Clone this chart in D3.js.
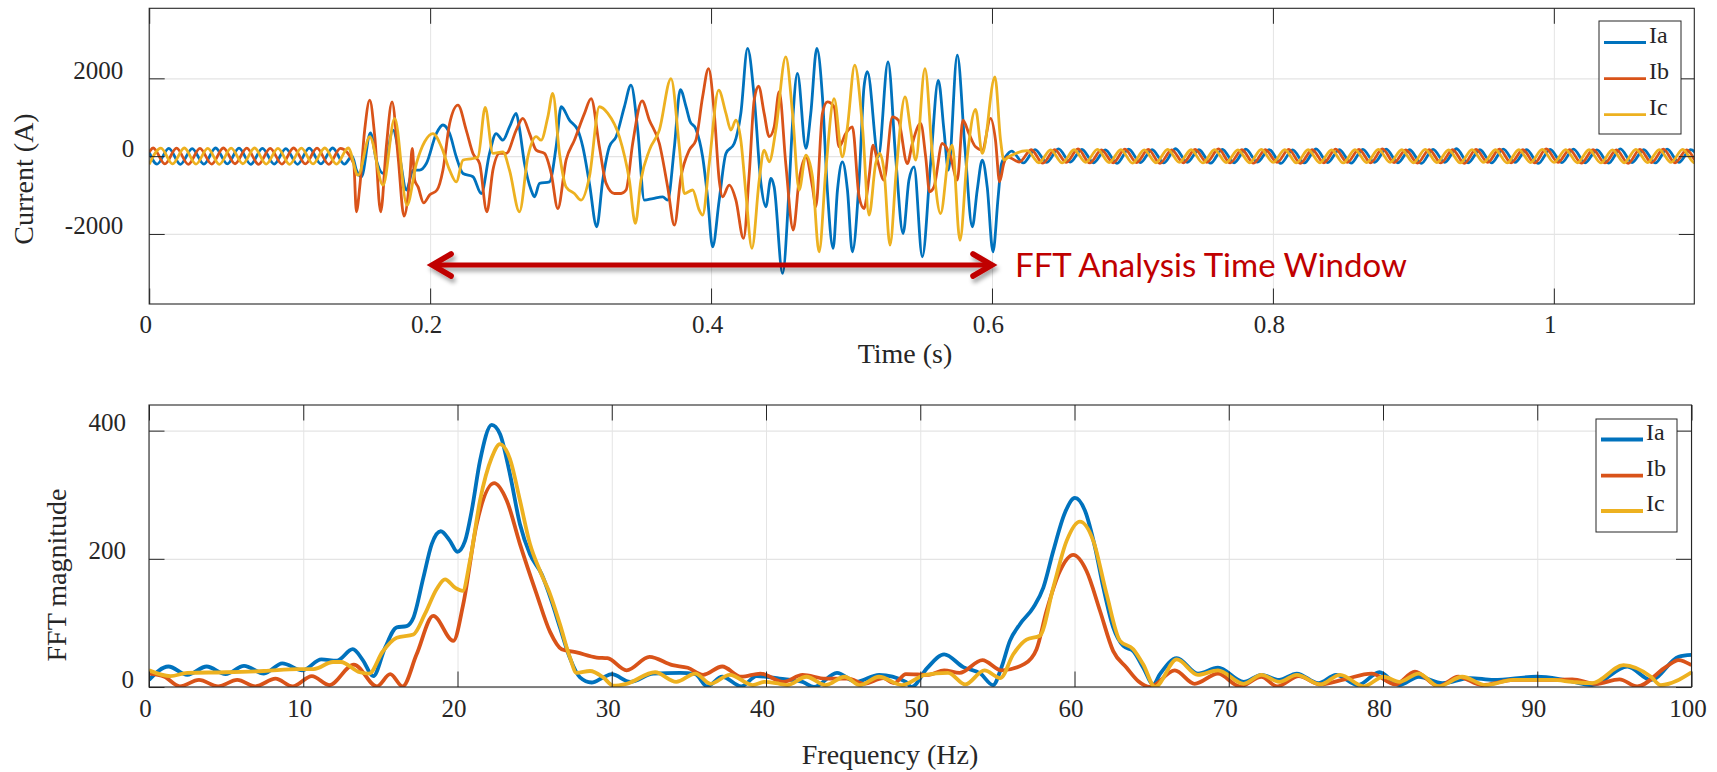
<!DOCTYPE html>
<html><head><meta charset="utf-8">
<script src="https://cdn.jsdelivr.net/npm/d3@7"></script>
<style>
body{margin:0;background:#fff;}
svg{display:block;}
text{font-family:"Liberation Serif","Times New Roman",serif;fill:#262626;}
</style></head><body>
<svg id="c" width="1717" height="772"></svg>
<script>
// ---------------- DATA ----------------
const seriesNames = ["Ia", "Ib", "Ic"];
const timeTicks = [0, 0.2, 0.4, 0.6, 0.8, 1];
const timeTickLabels = ["0", "0.2", "0.4", "0.6", "0.8", "1"];
const currentTicks = [-2000, 0, 2000];
const currentTickLabels = ["-2000", "0", "2000"];
const freqTicks = [0, 10, 20, 30, 40, 50, 60, 70, 80, 90, 100];
const freqTickLabels = ["0","10","20","30","40","50","60","70","80","90","100"];
const magTicks = [0, 200, 400];
const magTickLabels = ["0", "200", "400"];

// steady-state 60 Hz sections: values read at successive half-cycle extrema
const halfCycle = 1 / 120;
const startValues = { Ia: [0, 100], Ib: [0, 100], Ic: null };
const preStart = { Ia: 0.0056, Ib: 0.0028, Ic: 0.0 };
const IaPre = [-205, 200, -210, 195, -205, 210, -200, 205, -210, 200, -205, 195, -210, 205, -200, 210, -205];
const IbPre = [210, -200, 205, -210, 200, -205, 210, -195, 205, -210, 200, -205, 210, -200, 205, -210, 200];
const IcPre = [-210, 205, -200, 210, -205, 200, -210, 205, -195, 210, -205, 200, -210, 205, -200, 210, -205, 210];

// fault period: [time s, current A]
const IaFault = [[.1445,0],[.1475,-360],[.1511,-530],[.1575,600],[.1617,-100],[.1665,-445],[.1736,670],[.1783,-17],[.1831,-870],[.1878,-360],[.1925,-360],[.1973,-190],[.2044,580],[.2091,800],[.2139,580],[.2186,-17],[.2234,-445],[.2305,-530],[.2364,-960],[.2423,70],[.2470,580],[.2518,410],[.2565,750],[.2613,1100],[.2636,710],[.2672,-190],[.2719,-870],[.2743,-1045],[.2779,-700],[.2850,-660],[.2897,240],[.2933,1270],[.2992,925],[.3051,670],[.3087,240],[.3134,-700],[.3186,-1815],[.3229,-615],[.3276,240],[.3324,500],[.3383,1270],[.3430,1825],[.3478,670],[.3525,-1130],[.3585,-1090],[.3656,-1045],[.3691,-1130],[.3739,240],[.3781,1710],[.3822,1270],[.3850,900],[.3892,700],[.3940,-17],[.3975,-1045],[.4011,-2330],[.4058,-1130],[.4106,70],[.4165,325],[.4212,1100],[.4260,2770],[.4307,1525],[.4355,-700],[.4390,-1300],[.4426,-575],[.4449,-790],[.4509,-3015],[.4556,-790],[.4580,840],[.4615,2125],[.4675,200],[.4710,1100],[.4753,2770],[.4793,1525],[.4828,-870],[.4869,-2370],[.4900,-870],[.4935,-145],[.4971,-870],[.5006,-2460],[.5054,-615],[.5089,1780],[.5113,2170],[.5191,-17],[.5260,2425],[.5314,-17],[.5367,-1990],[.5409,-615],[.5445,-275],[.5504,-2585],[.5563,-190],[.5618,1950],[.5658,670],[.5690,-360],[.5753,2595],[.5807,240],[.5860,-1815],[.5895,-870],[.5931,-100],[.5966,-790],[.6007,-2460],[.6044,-1045],[.6068,-190],[.6096,-17]];
const IbFault = [[.1456,-190],[.1475,-1430],[.1499,-790],[.1534,670],[.1570,1440],[.1606,500],[.1648,-1430],[.1688,240],[.1729,1395],[.1772,-17],[.1814,-1540],[.1854,-615],[.1873,200],[.1890,-615],[.1914,-790],[.1954,-1200],[.1996,-1000],[.2049,-870],[.2091,-360],[.2139,840],[.2198,1310],[.2257,670],[.2305,70],[.2352,-190],[.2404,-1430],[.2447,-360],[.2494,70],[.2542,70],[.2613,670],[.2660,970],[.2708,580],[.2755,155],[.2814,70],[.2862,-445],[.2909,-1345],[.2968,-100],[.3027,410],[.3099,1100],[.3146,1480],[.3205,240],[.3253,-700],[.3312,-960],[.3359,-960],[.3395,-870],[.3442,325],[.3509,1420],[.3561,925],[.3632,325],[.3691,-790],[.3739,-1775],[.3786,-530],[.3845,155],[.3892,410],[.3940,1525],[.3982,2250],[.4023,1100],[.4058,-615],[.4082,-1045],[.4129,-745],[.4177,-1130],[.4231,-2115],[.4272,-445],[.4307,1440],[.4338,1800],[.4378,1100],[.4414,500],[.4449,750],[.4485,1655],[.4532,-190],[.4585,-1900],[.4627,-615],[.4675,-17],[.4722,-790],[.4746,-1300],[.4793,1100],[.4828,1395],[.4876,1270],[.4911,240],[.4959,580],[.5006,750],[.5054,-1045],[.5089,-1345],[.5125,-530],[.5153,280],[.5184,-100],[.5231,-615],[.5291,1010],[.5333,925],[.5397,-190],[.5433,325],[.5492,840],[.5528,-17],[.5556,-915],[.5587,-790],[.5646,325],[.5705,-17],[.5753,-615],[.5793,925],[.5836,580],[.5883,240],[.5931,155],[.5990,970],[.6025,410],[.6054,-660],[.6084,-190],[.6108,-17]];
const IcFault = [[.1487,-490],[.1570,500],[.1665,-745],[.1748,970],[.1835,-1260],[.1902,-190],[.1961,370],[.2020,580],[.2080,240],[.2139,-360],[.2186,-660],[.2234,-100],[.2305,-60],[.2341,-17],[.2392,1250],[.2447,70],[.2518,110],[.2565,-360],[.2636,-1430],[.2696,-17],[.2755,500],[.2790,410],[.2838,1010],[.2873,1610],[.2921,70],[.2968,-790],[.3027,-960],[.3075,-1130],[.3134,-530],[.3205,1270],[.3265,1100],[.3347,500],[.3418,-615],[.3461,-1730],[.3501,-615],[.3561,155],[.3632,670],[.3715,1995],[.3774,240],[.3810,-960],[.3869,-870],[.3916,-1390],[.3940,-1515],[.3987,-190],[.4054,1695],[.4106,1100],[.4141,670],[.4177,925],[.4212,410],[.4248,-960],[.4291,-2370],[.4343,-615],[.4378,155],[.4414,-145],[.4461,670],[.4532,2550],[.4580,1100],[.4627,-870],[.4675,25],[.4722,-530],[.4769,-2460],[.4817,-360],[.4876,1480],[.4935,-17],[.4971,750],[.5023,2340],[.5078,750],[.5125,-1515],[.5172,-190],[.5201,70],[.5231,-360],[.5274,-2285],[.5319,-360],[.5381,1525],[.5421,670],[.5457,-100],[.5523,2250],[.5575,70],[.5634,-1475],[.5694,70],[.5717,280],[.5772,-2160],[.5824,-17],[.5883,1200],[.5931,70],[.6021,2040],[.6061,410],[.6085,-100],[.6120,-17]];

const postStart = { Ia: 0.614, Ib: 0.6196, Ic: 0.6251 };
const IaPost = [130,-175,170,-160,185,-150,175,-170,160,-185,180,-165,170,-175,190,-160,165,-180,175,-170,180,-155,170,-185,160,-175,185,-165,170,-180,175,-160,180,-170,165,-185,175,-160,190,-170,165,-175,180,-160,170,-185,175,-165,180,-170,160,-180,185,-165,170,-175,180,-160,170,-175];
const IbPost = [-150,165,-180,170,-160,185,-175,160,-170,180,-165,175,-185,160,-170,175,-160,185,-175,165,-180,170,-160,175,-185,165,-170,180,-160,175,-170,185,-165,160,-180,170,-175,165,-185,175,-160,180,-170,165,-175,185,-160,170,-180,165,-175,160,-185,175,-165,180,-170,160,-175,170];
const IcPost = [140,-170,160,-175,165,-160,175,-165,170,-180,160,-170,175,-160,165,-175,170,-165,160,-170,175,-160,170,-175,165,-170,160,-175,170,-165,175,-160,165,-170,175,-165,160,-175,170,-160,165,-175,170,-165,175,-160,170,-170,165,-175,160,-170,175,-165,170,-160,175,-170,165,-175];

// FFT magnitude: [frequency Hz, magnitude]
const fftIa = [[0,11],[1.26,32],[2.48,19],[3.74,32],[4.97,20],[6.16,33],[7.45,21],[8.64,37],[9.94,26],[11.18,43],[12.17,41],[13.21,59],[13.86,42],[14.54,17],[15.30,61],[16.06,93],[16.70,95],[17.14,108],[17.79,171],[18.33,223],[18.91,243],[19.51,228],[19.99,211],[20.49,228],[20.92,275],[21.46,353],[22.22,409],[22.75,395],[23.40,332],[24.05,254],[24.70,207],[25.46,176],[26.10,134],[26.64,93],[27.29,45],[27.94,15],[28.69,7],[29.45,15],[30.0,20],[31.2,8],[32.69,21],[34.43,22],[35.42,20],[36.17,1],[37.16,16],[38.4,1],[39.39,17],[40.88,13],[42.37,8],[43.11,0],[44.6,22],[45.84,8],[47.33,19],[49.07,8],[49.44,0],[50.43,29],[51.55,51],[52.79,31],[53.9,21],[54.72,3],[55.27,31],[55.81,72],[56.46,98],[57.33,124],[57.98,155],[58.62,212],[59.38,272],[60.03,295],[60.68,275],[61.33,218],[61.87,155],[62.51,93],[63.17,64],[63.81,56],[64.46,30],[65.11,4],[65.54,20],[66.63,45],[68.0,21],[69.3,30],[70.97,8],[72.12,19],[73.27,11],[74.41,21],[75.81,6],[76.96,19],[78.37,3],[79.77,23],[81.05,3],[82.32,16],[83.85,6],[85.64,14],[87.17,11],[89.97,16],[91.76,11],[93.55,3],[95.84,32],[97.37,11],[99.16,47],[100,50]];
const fftIb = [[0,21],[1.0,16],[2.0,1],[3.24,11],[4.48,1],[5.72,11],[6.9,1],[8.2,13],[9.31,1],[10.56,17],[11.68,3],[13.28,35],[14.77,1],[15.64,20],[16.44,1],[17.35,51],[18.43,111],[19.73,72],[20.37,129],[21.24,254],[22.37,318],[23.19,291],[24.05,223],[25.13,145],[26.0,86],[26.75,59],[27.72,54],[29.02,46],[29.72,45],[30.96,26],[32.45,47],[33.94,34],[34.93,30],[35.92,19],[37.16,32],[38.4,16],[39.64,21],[41.13,8],[42.37,19],[43.86,13],[45.35,13],[46.34,5],[47.6,14],[48.3,6],[49.07,20],[50.56,19],[51.55,26],[52.55,22],[54.03,42],[55.27,26],[56.76,36],[57.54,59],[58.19,119],[59.06,181],[59.92,206],[60.78,181],[61.65,119],[62.51,56],[63.38,30],[64.14,9],[64.9,0],[66.5,26],[67.79,5],[69.3,21],[70.72,1],[72.12,16],[73.14,1],[74.54,17],[75.94,4],[77.5,12],[79.26,21],[80.79,4],[82.07,24],[83.6,1],[84.88,16],[86.41,3],[88.45,11],[91.0,11],[92.27,12],[93.8,5],[95.33,12],[96.48,1],[98.39,32],[99.16,42],[100,34]];
const fftIc = [[0,26],[1.39,17],[2.48,22],[4.97,23],[7.45,25],[9.69,28],[10.68,28],[11.93,39],[12.43,39],[13.66,23],[14.28,21],[15.14,55],[16.06,77],[17.14,82],[17.89,114],[18.65,153],[19.19,168],[19.84,155],[20.33,150],[20.81,197],[21.46,291],[22.22,358],[22.75,379],[23.40,356],[24.05,291],[24.70,223],[25.35,181],[26.0,145],[26.64,98],[27.29,46],[27.72,22],[28.59,25],[29.45,15],[30.1,2],[30.96,5],[32.81,23],[34.18,8],[35.42,21],[36.41,5],[37.65,19],[39.14,3],[39.89,8],[40.88,5],[41.38,3],[42.62,16],[43.86,3],[45.1,16],[46.09,3],[47.33,16],[48.82,3],[50.31,19],[51.8,22],[52.92,4],[54.16,26],[55.2,14],[56.03,51],[56.89,74],[57.76,80],[58.62,155],[59.49,228],[60.35,258],[61.22,228],[62.08,145],[62.95,72],[63.81,59],[64.46,35],[65.22,0],[66.63,43],[68.0,19],[69.3,26],[70.97,5],[72.12,19],[73.27,8],[74.41,19],[75.94,4],[77.22,19],[78.75,1],[80.03,16],[81.05,8],[82.32,21],[83.6,1],[85.13,16],[86.66,3],[88.45,11],[91.0,11],[92.27,8],[93.55,6],[95.59,34],[97.37,16],[98.01,3],[100,23]];

// ---------------- DRAW ----------------
const colors = { Ia: "#0072BD", Ib: "#D95319", Ic: "#EDB120" };
const svg = d3.select("#c");
const defs = svg.append("defs");
const sh = defs.append("filter").attr("id", "sh").attr("x", "-10%").attr("y", "-100%").attr("width", "120%").attr("height", "300%");
sh.append("feDropShadow").attr("dx", 2).attr("dy", 4).attr("stdDeviation", 2).attr("flood-color", "#000").attr("flood-opacity", 0.35);

function buildSeries(name, pre, fault, post) {
  const pts = [];
  if (startValues[name]) pts.push(startValues[name]);
  pre.forEach((v, i) => pts.push([preStart[name] + i * halfCycle, v]));
  fault.forEach(d => pts.push(d));
  post.forEach((v, i) => pts.push([postStart[name] + i * halfCycle, v]));
  return pts;
}
const timeSeries = {
  Ia: buildSeries("Ia", IaPre, IaFault, IaPost),
  Ib: buildSeries("Ib", IbPre, IbFault, IbPost),
  Ic: buildSeries("Ic", IcPre, IcFault, IcPost)
};
const fftSeries = { Ia: fftIa, Ib: fftIb, Ic: fftIc };

const TL = 15.5; // tick length
const axisColor = "#262626";
const gridColor = "#e4e4e4";

function panel(cfg) {
  const { x, y, xTicks, yTicks, id } = cfg;
  const [x0, x1] = x.range(), [y0, y1] = y.range();
  const g = svg.append("g");
  defs.append("clipPath").attr("id", id).append("rect")
    .attr("x", x0).attr("y", y1).attr("width", x1 - x0).attr("height", y0 - y1);
  g.append("g").attr("transform", `translate(0,${y0})`)
    .call(d3.axisBottom(x).tickValues(xTicks).tickSize(-(y0 - y1)).tickFormat(""))
    .call(s => { s.select(".domain").remove(); s.selectAll("line").attr("stroke", gridColor).attr("stroke-width", 1); });
  g.append("g").attr("transform", `translate(${x0},0)`)
    .call(d3.axisLeft(y).tickValues(yTicks).tickSize(-(x1 - x0)).tickFormat(""))
    .call(s => { s.select(".domain").remove(); s.selectAll("line").attr("stroke", gridColor).attr("stroke-width", 1.3); });
  return g;
}

function axesFrame(cfg) {
  const { x, y, xTicks, xLabels, yTicks, yLabels, yPad, xPad, zeroShift } = cfg;
  const [x0, x1] = x.range(), [y0, y1] = y.range();
  const g = svg.append("g");
  const style = s => { s.select(".domain").remove(); s.selectAll("line").attr("stroke", axisColor).attr("stroke-width", 1); };
  g.append("g").attr("transform", `translate(0,${y0})`)
    .call(d3.axisBottom(x).tickValues(xTicks).tickSize(-TL).tickPadding(xPad).tickFormat((d, i) => xLabels[i]))
    .call(style)
    .call(s => s.selectAll("text").attr("dy", 0).attr("dx", -4).attr("font-size", 25).attr("fill", axisColor)
      .attr("font-family", '"Liberation Serif","Times New Roman",serif'));
  g.append("g").attr("transform", `translate(0,${y1})`)
    .call(d3.axisTop(x).tickValues(xTicks).tickSize(-TL).tickFormat("")).call(style);
  g.append("g").attr("transform", `translate(${x0},0)`)
    .call(d3.axisLeft(y).tickValues(yTicks).tickSize(-TL).tickPadding(yPad).tickFormat((d, i) => yLabels[i]))
    .call(style)
    .call(s => s.selectAll("text").attr("dy", 0).attr("dx", d => d === 0 ? zeroShift : 0).attr("font-size", 25).attr("fill", axisColor)
      .attr("font-family", '"Liberation Serif","Times New Roman",serif'));
  g.append("g").attr("transform", `translate(${x1},0)`)
    .call(d3.axisRight(y).tickValues(yTicks).tickSize(-TL).tickFormat("")).call(style);
  g.append("rect").attr("x", x0).attr("y", y1).attr("width", x1 - x0).attr("height", y0 - y1)
    .attr("fill", "none").attr("stroke", axisColor).attr("stroke-width", 1.1);
}

function legend(lx, ly, w, h, entries, lw) {
  const g = svg.append("g");
  g.append("rect").attr("x", lx).attr("y", ly).attr("width", w).attr("height", h)
    .attr("fill", "#fff").attr("stroke", axisColor).attr("stroke-width", 1);
  entries.forEach((e) => {
    g.append("line").attr("x1", lx + 5).attr("x2", lx + 47).attr("y1", e.y).attr("y2", e.y)
      .attr("stroke", colors[e.name]).attr("stroke-width", lw);
    g.append("text").attr("x", lx + 50).attr("y", e.y).attr("font-size", 24).text(e.name);
  });
}

// ---- top panel ----
const xT = d3.scaleLinear().domain([0, 1.1]).range([149.2, 1694.3]);
const yT = d3.scaleLinear().domain([-3800, 3800]).range([304, 8.3]);
panel({ x: xT, y: yT, xTicks: timeTicks, yTicks: currentTicks, id: "clipT" });
const lineT = d3.line().x(d => xT(d[0])).y(d => yT(d[1])).curve(d3.curveMonotoneX);
const gT = svg.append("g").attr("clip-path", "url(#clipT)");
seriesNames.forEach(n => {
  gT.append("path").datum(timeSeries[n]).attr("d", lineT).attr("fill", "none")
    .attr("stroke", colors[n]).attr("stroke-width", 2.8).attr("stroke-linejoin", "round");
});
axesFrame({ x: xT, y: yT, xTicks: timeTicks, xLabels: timeTickLabels, yTicks: currentTicks, yLabels: currentTickLabels, yPad: 26, xPad: 29, zeroShift: 11 });

// arrow annotation
const ay = 265;
const aL = xT(0.2), aR = xT(0.6) + 2;
const ag = svg.append("g").attr("filter", "url(#sh)");
ag.append("line").attr("x1", aL + 4).attr("x2", aR - 4).attr("y1", ay).attr("y2", ay)
  .attr("stroke", "#C00000").attr("stroke-width", 5);
ag.append("path").attr("d", `M${aL + 21},${ay - 11} L${aL + 2},${ay} L${aL + 21},${ay + 11}`)
  .attr("fill", "none").attr("stroke", "#C00000").attr("stroke-width", 5.5).attr("stroke-linecap", "round");
ag.append("path").attr("d", `M${aR - 21},${ay - 11} L${aR - 2},${ay} L${aR - 21},${ay + 11}`)
  .attr("fill", "none").attr("stroke", "#C00000").attr("stroke-width", 5.5).attr("stroke-linecap", "round");
svg.append("text").attr("x", 1015).attr("y", 277).attr("font-size", 33)
  .style("font-family", "Lato, 'Open Sans', sans-serif").style("fill", "#C00000")
  .text("FFT Analysis Time Window");

legend(1599, 21, 82, 113, [{ name: "Ia", y: 42.5 }, { name: "Ib", y: 78.7 }, { name: "Ic", y: 114.7 }], 2.8);

svg.append("text").attr("x", 905).attr("y", 363).attr("text-anchor", "middle").attr("font-size", 28).text("Time (s)");
svg.append("text").attr("transform", "translate(33,179) rotate(-90)").attr("text-anchor", "middle").attr("font-size", 28).text("Current (A)");

// ---- bottom panel ----
const xB = d3.scaleLinear().domain([0, 100]).range([149, 1691.5]);
const yB = d3.scaleLinear().domain([0, 440]).range([687, 405]);
panel({ x: xB, y: yB, xTicks: freqTicks, yTicks: magTicks, id: "clipB" });
const lineB = d3.line().x(d => xB(d[0])).y(d => yB(d[1])).curve(d3.curveMonotoneX);
const gB = svg.append("g").attr("clip-path", "url(#clipB)");
seriesNames.forEach(n => {
  gB.append("path").datum(fftSeries[n]).attr("d", lineB).attr("fill", "none")
    .attr("stroke", colors[n]).attr("stroke-width", 3.8).attr("stroke-linejoin", "round");
});
axesFrame({ x: xB, y: yB, xTicks: freqTicks, xLabels: freqTickLabels, yTicks: magTicks, yLabels: magTickLabels, yPad: 23, xPad: 29.5, zeroShift: 8 });

legend(1596, 419, 81, 113, [{ name: "Ia", y: 439.5 }, { name: "Ib", y: 475.7 }, { name: "Ic", y: 511 }], 3.8);

svg.append("text").attr("x", 890).attr("y", 764).attr("text-anchor", "middle").attr("font-size", 28).text("Frequency (Hz)");
svg.append("text").attr("transform", "translate(66,575) rotate(-90)").attr("text-anchor", "middle").attr("font-size", 28).text("FFT magnitude");
</script>
</body></html>
